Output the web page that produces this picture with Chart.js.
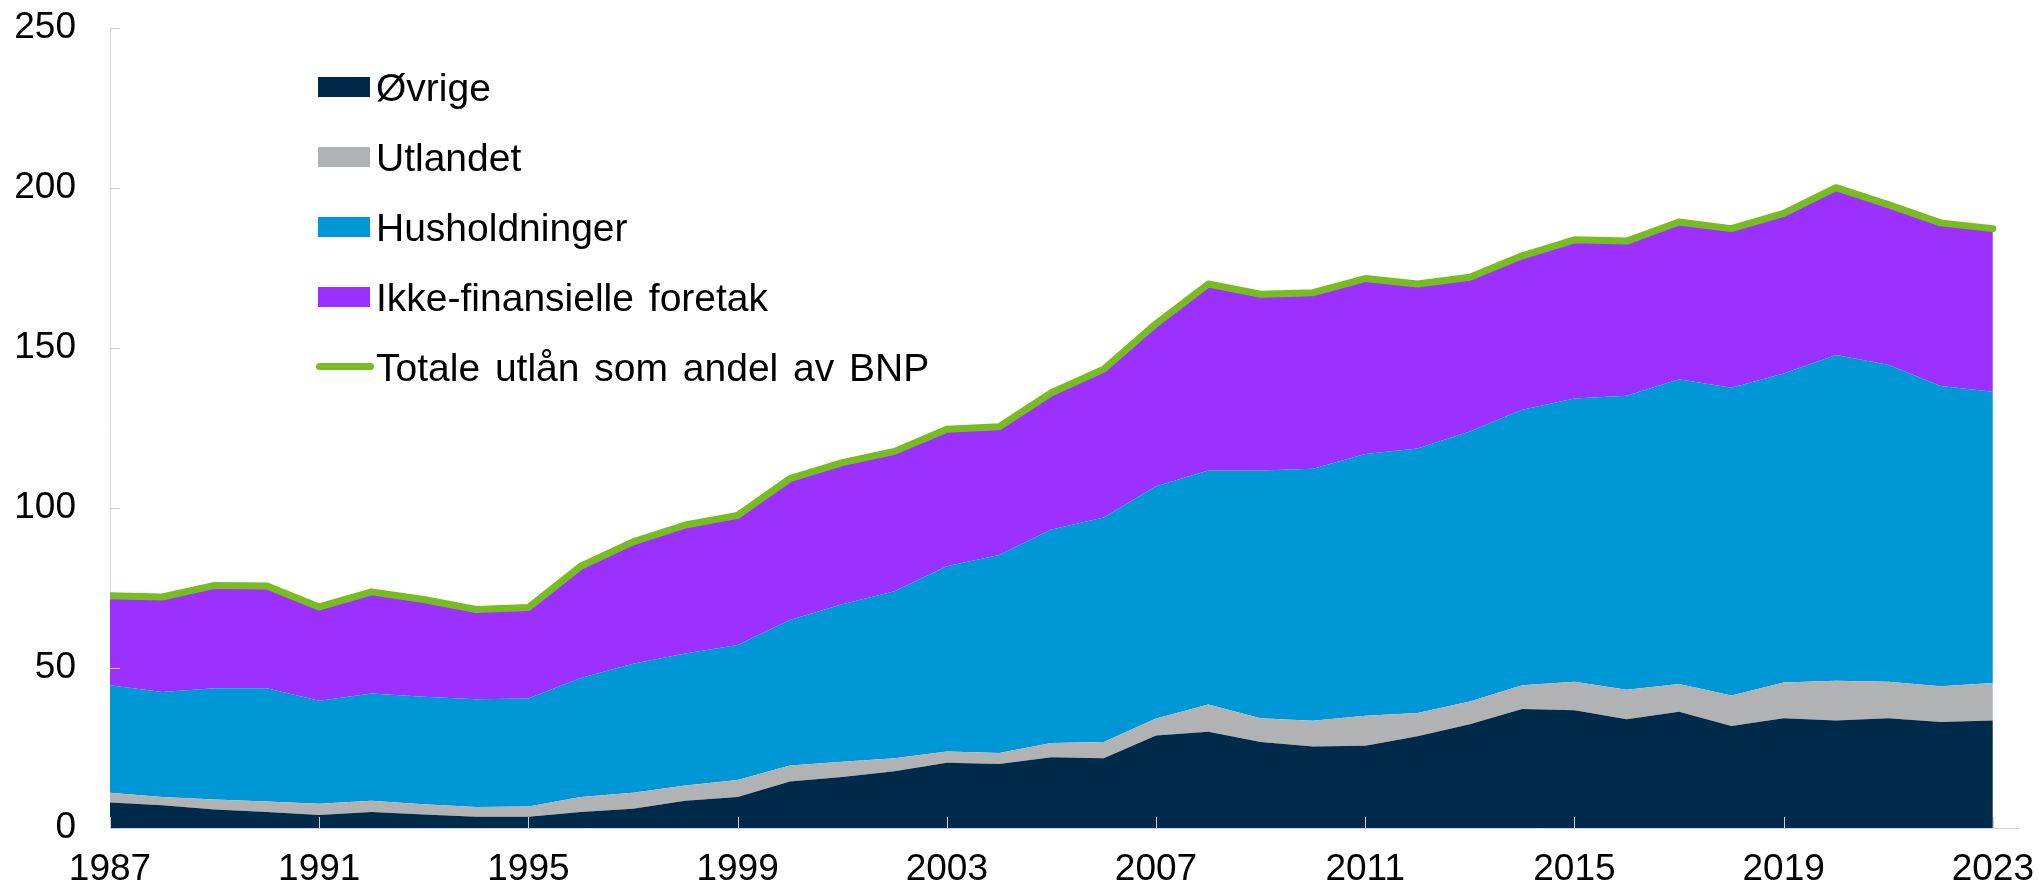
<!DOCTYPE html>
<html>
<head>
<meta charset="utf-8">
<script src="https://cdn.jsdelivr.net/npm/chart.js@4.4.1/dist/chart.umd.min.js"></script>
<style>
  html, body { margin: 0; padding: 0; background: #fff; }
  #wrap { position: relative; width: 2039px; height: 887px; }
  #legend { position: absolute; left: 0; top: 0; font-family: "Liberation Sans", Arial, sans-serif; font-size: 39px; color: #000; }
  .box { position: absolute; left: 318px; width: 52px; height: 20px; }
  .line { position: absolute; left: 316px; width: 58px; height: 7px; border-radius: 4px; }
  .txt { position: absolute; left: 376px; line-height: 39px; white-space: nowrap; word-spacing: 4px; }
</style>
</head>
<body>
<div id="wrap">
  <canvas id="chart" width="2039" height="887"></canvas>
  <div id="legend"></div>
</div>
<script>
// --- data (prosent av BNP) ---
const years = [1987, 1988, 1989, 1990, 1991, 1992, 1993, 1994, 1995, 1996, 1997, 1998, 1999,
  2000, 2001, 2002, 2003, 2004, 2005, 2006, 2007, 2008, 2009, 2010, 2011, 2012, 2013,
  2014, 2015, 2016, 2017, 2018, 2019, 2020, 2021, 2022, 2023];

const ovrige = [8.0, 7.1, 5.8, 5.0, 4.1, 5.0, 4.2, 3.5, 3.5, 5.0, 6.0, 8.5, 9.7,
  14.5, 15.9, 17.7, 20.4, 20.0, 22.1, 21.8, 28.9, 30.1, 26.9, 25.5, 25.7, 28.7, 32.4,
  37.2, 36.8, 34.0, 36.3, 31.9, 34.3, 33.6, 34.3, 33.1, 33.6];

const utlandet = [3.0, 2.6, 3.1, 3.3, 3.5, 3.5, 3.2, 3.1, 3.2, 4.7, 5.0, 4.8, 5.3,
  5.0, 4.8, 4.1, 3.5, 3.4, 4.5, 5.1, 5.3, 8.5, 7.4, 8.0, 9.4, 7.2, 7.1,
  7.4, 8.9, 9.2, 8.7, 9.5, 11.2, 12.4, 11.4, 11.2, 11.7];

const husholdninger = [33.6, 32.8, 34.8, 35.4, 32.2, 33.5, 33.6, 33.6, 33.8, 37.2, 40.3, 41.2, 42.2,
  45.5, 49.2, 52.2, 57.9, 61.9, 66.7, 70.1, 72.6, 73.1, 77.4, 78.8, 81.8, 82.7, 84.4,
  86.1, 88.5, 91.9, 95.2, 96.2, 96.5, 101.8, 99.1, 93.8, 91.0];

const ikkeFinansielle = [28.0, 29.7, 32.1, 31.9, 29.3, 31.8, 30.4, 28.1, 28.4, 34.9, 38.1, 40.2, 40.5,
  44.2, 44.3, 43.7, 42.8, 40.1, 42.7, 46.4, 50.8, 58.3, 55.1, 55.0, 54.8, 51.4, 48.2,
  48.1, 49.6, 48.3, 49.2, 49.7, 50.1, 52.3, 50.0, 51.0, 51.0];

const totalt = [72.6, 72.2, 75.8, 75.6, 69.1, 73.8, 71.4, 68.3, 68.9, 81.8, 89.4, 94.7, 97.7,
  109.2, 114.2, 117.7, 124.6, 125.4, 136.0, 143.4, 157.6, 170.0, 166.8, 167.3, 171.7, 170.0, 172.1,
  178.8, 183.8, 183.4, 189.4, 187.3, 192.1, 200.1, 194.8, 189.1, 187.3];

const yTicks = [0, 50, 100, 150, 200, 250];
const xTickYears = [1987, 1991, 1995, 1999, 2003, 2007, 2011, 2015, 2019, 2023];

const areas = [
  { label: 'Øvrige', data: ovrige, color: '#002a4a' },
  { label: 'Utlandet', data: utlandet, color: '#b1b2b4' },
  { label: 'Husholdninger', data: husholdninger, color: '#0097d6' },
  { label: 'Ikke-finansielle foretak', data: ikkeFinansielle, color: '#9b30ff' }
];
const totalLabel = 'Totale utlån som andel av BNP';
const green = '#78bd20';

const FONT = '"Liberation Sans", Arial, sans-serif';
const toPoints = arr => arr.map((v, i) => ({ x: years[i], y: v }));

// total first -> drawn on top
const datasets = [{
  label: totalLabel,
  data: toPoints(totalt),
  stack: 'total',
  borderColor: green,
  borderWidth: 7,
  borderCapStyle: 'round',
  borderJoinStyle: 'round',
  pointRadius: 0,
  fill: false,
  tension: 0
}];
areas.forEach((a, i) => {
  datasets.push({
    label: a.label,
    data: toPoints(a.data),
    stack: 'areas',
    backgroundColor: a.color,
    borderColor: a.color,
    borderWidth: 0,
    pointRadius: 0,
    fill: i === 0 ? 'origin' : '-1',
    tension: 0
  });
});

// small inward tick marks, like the original
const innerTicks = {
  id: 'innerTicks',
  afterDatasetsDraw(chart) {
    const { ctx, scales: { x, y }, chartArea } = chart;
    ctx.save();
    ctx.strokeStyle = '#c9ccd0';
    ctx.lineWidth = 1;
    ctx.beginPath();
    xTickYears.forEach(yr => {
      const px = Math.round(x.getPixelForValue(yr)) + 0.5;
      ctx.moveTo(px, chartArea.bottom);
      ctx.lineTo(px, chartArea.bottom - 11);
    });
    yTicks.forEach(v => {
      const py = Math.round(y.getPixelForValue(v)) + 0.5;
      ctx.moveTo(chartArea.left, py);
      ctx.lineTo(chartArea.left + 10, py);
    });
    ctx.stroke();
    ctx.restore();
  }
};

new Chart(document.getElementById('chart'), {
  type: 'line',
  data: { datasets },
  plugins: [innerTicks],
  options: {
    responsive: false,
    animation: false,
    layout: { padding: { top: 28, right: 20, bottom: 0, left: 0 } },
    plugins: { legend: { display: false }, tooltip: { enabled: false } },
    scales: {
      x: {
        type: 'linear',
        min: 1987,
        max: 2023.5,
        afterBuildTicks: s => { s.ticks = xTickYears.map(v => ({ value: v })); },
        afterFit: s => { s.height = 59; s.paddingLeft = 0; s.paddingRight = 0; },
        grid: { display: false, drawTicks: false },
        border: { display: true, color: '#d4d6d9', width: 1 },
        ticks: { color: '#000', font: { family: FONT, size: 37 }, padding: 20, maxRotation: 0, autoSkip: false, callback: v => String(v) }
      },
      y: {
        stacked: true,
        min: 0,
        max: 250,
        afterBuildTicks: s => { s.ticks = yTicks.map(v => ({ value: v })); },
        afterFit: s => { s.width = 110; s.paddingTop = 0; s.paddingBottom = 0; },
        grid: { display: false, drawTicks: false },
        border: { display: true, color: '#d4d6d9', width: 1 },
        ticks: { color: '#000', font: { family: FONT, size: 37 }, padding: 34 }
      }
    }
  }
});

// legend: rows 70 px apart, text cap centred on the swatch
const legend = document.getElementById('legend');
const rowY = i => 86.7 + i * 70;
areas.forEach((a, i) => {
  legend.insertAdjacentHTML('beforeend',
    `<span class="box" style="background:${a.color};top:${rowY(i) - 10}px"></span>` +
    `<span class="txt" style="top:${rowY(i) - 19}px">${a.label}</span>`);
});
legend.insertAdjacentHTML('beforeend',
  `<span class="line" style="background:${green};top:${rowY(4) - 3.5}px"></span>` +
  `<span class="txt" style="top:${rowY(4) - 19}px">${totalLabel}</span>`);
</script>
</body>
</html>
